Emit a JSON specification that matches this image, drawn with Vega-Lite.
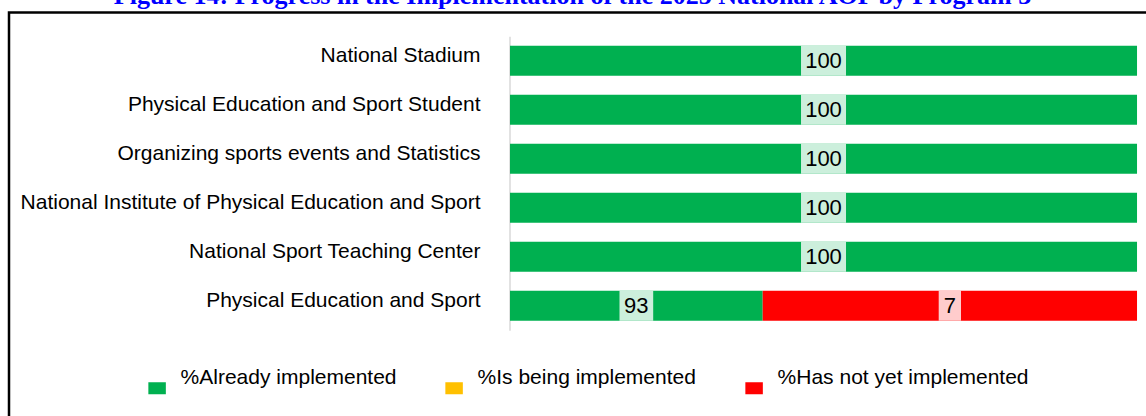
{
  "$schema": "https://vega.github.io/schema/vega-lite/v6.json",
  "width": 1139,
  "height": 405.5,
  "autosize": {"type": "none"},
  "padding": {"left": 9, "top": 12.5, "right": -2, "bottom": -2},
  "background": "white",
  "title": {
    "text": "Figure 14: Progress in the Implementation of the 2025 National AOP by Program 3",
    "anchor": "middle",
    "frame": "group",
    "font": "Liberation Serif",
    "fontSize": 26,
    "fontWeight": "bold",
    "color": "#0000FF",
    "baseline": "alphabetic",
    "offset": -17,
    "dx": -6
  },
  "data": {
    "values": [
      {"program": "National Stadium", "status": "%Already implemented", "value": 100, "share": 100},
      {"program": "Physical Education and Sport Student", "status": "%Already implemented", "value": 100, "share": 100},
      {"program": "Organizing sports events and Statistics", "status": "%Already implemented", "value": 100, "share": 100},
      {"program": "National Institute of Physical Education and Sport", "status": "%Already implemented", "value": 100, "share": 100},
      {"program": "National Sport Teaching Center", "status": "%Already implemented", "value": 100, "share": 100},
      {"program": "Physical Education and Sport", "status": "%Already implemented", "value": 93, "share": 40.3},
      {"program": "Physical Education and Sport", "status": "%Has not yet implemented", "value": 7, "share": 59.7}
    ]
  },
  "encoding": {
    "y": {
      "field": "program",
      "type": "nominal",
      "sort": null,
      "scale": {"range": [23.7, 317.7], "paddingInner": 0.388, "paddingOuter": 0.194, "align": 0.5, "round": false},
      "axis": {
        "title": null,
        "orient": "left",
        "offset": -500.5,
        "domain": true,
        "domainColor": "#d9d9d9",
        "domainWidth": 1.5,
        "ticks": false,
        "tickSize": 0,
        "labelPadding": 29.5,
        "labelOffset": -4.5,
        "labelFont": "Liberation Sans",
        "labelFontSize": 21,
        "labelColor": "#000000",
        "labelLimit": 800,
        "labelOverlap": false
      }
    },
    "order": {"field": "status", "type": "nominal", "sort": "ascending"}
  },
  "layer": [
    {
      "mark": {"type": "bar"},
      "encoding": {
        "x": {
          "field": "share",
          "type": "quantitative",
          "stack": "zero",
          "scale": {"domain": [-79.9, 101.75], "nice": false, "zero": false},
          "axis": null
        },
        "color": {
          "field": "status",
          "type": "nominal",
          "scale": {
            "domain": ["%Already implemented", "%Is being implemented", "%Has not yet implemented"],
            "range": ["#00B050", "#FFC000", "#FF0000"]
          },
          "legend": {
            "orient": "none",
            "legendX": 137.6,
            "legendY": 355,
            "direction": "horizontal",
            "title": null,
            "symbolType": "M-1,0.457H1V1.83H-1Z",
            "symbolSize": 306,
            "symbolStrokeWidth": 0,
            "symbolOpacity": 1,
            "labelFont": "Liberation Sans",
            "labelFontSize": 21,
            "labelColor": "#000000",
            "labelOffset": 13,
            "columnPadding": 47,
            "labelLimit": 400
          }
        }
      }
    },
    {
      "mark": {"type": "point", "filled": true, "fill": "white", "opacity": 0.8, "size": 2025, "strokeWidth": 0},
      "encoding": {
        "x": {"field": "share", "type": "quantitative", "stack": "zero", "bandPosition": 0.5, "scale": {"domain": [-79.9, 101.75], "nice": false, "zero": false}, "axis": null},
        "detail": {"field": "status", "type": "nominal"},
        "shape": {
          "field": "value",
          "type": "nominal",
          "scale": {
            "domain": [100, 93, 7],
            "range": ["M-1,-0.6667H1V0.6667H-1Z", "M-0.749,-0.6667H0.749V0.6667H-0.749Z", "M-0.496,-0.6667H0.496V0.6667H-0.496Z"]
          },
          "legend": null
        }
      }
    },
    {
      "mark": {"type": "text", "font": "Liberation Sans", "fontSize": 22, "color": "#000000", "baseline": "middle"},
      "encoding": {
        "x": {"field": "share", "type": "quantitative", "stack": "zero", "bandPosition": 0.5, "scale": {"domain": [-79.9, 101.75], "nice": false, "zero": false}, "axis": null},
        "detail": {"field": "status", "type": "nominal"},
        "text": {"field": "value", "type": "quantitative"}
      }
    }
  ],
  "config": {
    "view": {"stroke": "#000000", "strokeWidth": 2.5}
  }
}
